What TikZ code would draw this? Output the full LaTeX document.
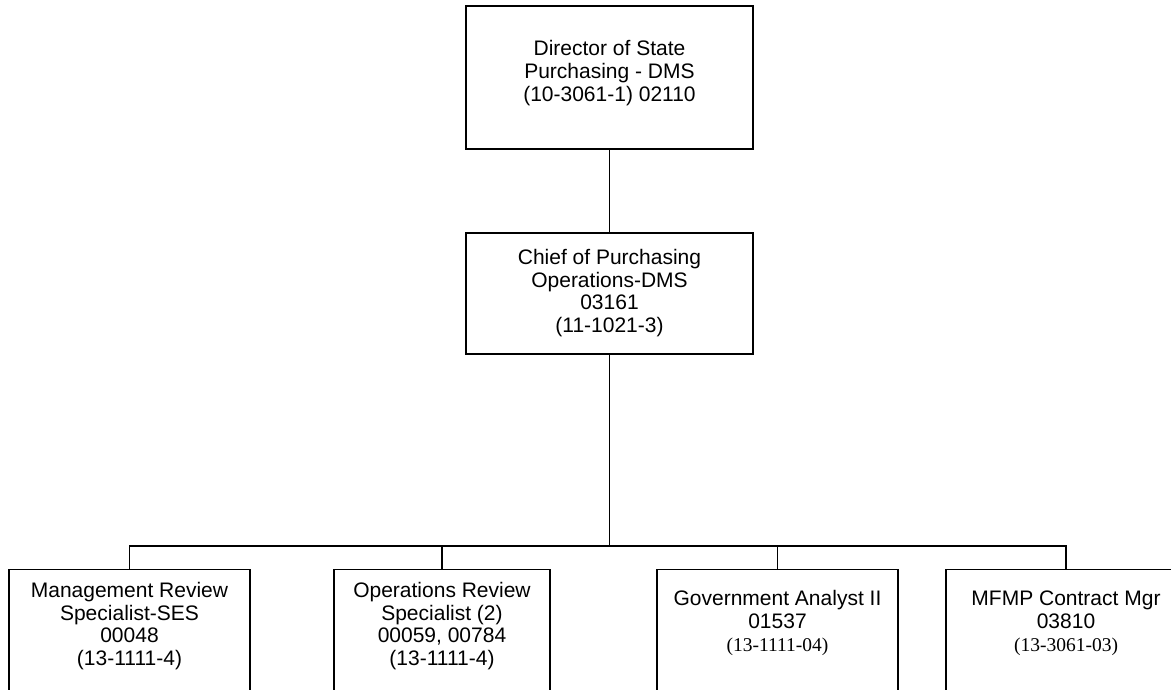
\documentclass[tikz,border=0pt]{standalone}
\usepackage{fontspec}
\setmainfont{Liberation Sans}
\newfontfamily\codeface{Liberation Serif}
\newcommand{\code}[1]{{\codeface\fontsize{19.5}{23}\selectfont #1}}
\begin{document}
\begin{tikzpicture}[x=1pt,y=-1pt,
  line width=1.7pt,
  posbox/.style={draw=black,line width=1.7pt,inner sep=0pt,fill=none},
  postext/.style={align=center,inner sep=0pt,font=\fontsize{21}{22.8}\selectfont}]
  \useasboundingbox (0,0) rectangle (1171,689);
  \clip (0,0) rectangle (1171,689);

  % position boxes
  \node[posbox,minimum width=287pt,minimum height=143pt] (dir)  at (609.5,77.5) {};
  \node[posbox,minimum width=287pt,minimum height=121pt] (chief) at (609.5,293.5) {};
  \node[posbox,minimum width=241pt,minimum height=160pt] (mrs) at (129.5,649.5) {};
  \node[posbox,minimum width=216pt,minimum height=160pt] (ors) at (442,649.5) {};
  \node[posbox,minimum width=241pt,minimum height=160pt] (gov) at (777.5,649.5) {};
  \node[posbox,minimum width=240pt,minimum height=160pt] (mfmp) at (1066,649.5) {};

  % titles
  \node[postext] (dirT) at (609.5,73) {Director of State\\Purchasing - DMS\\(10-3061-1) 02110};
  \node[postext] (chiefT) at (609.5,293) {Chief of Purchasing\\Operations-DMS\\03161\\(11-1021-3)};
  \node[postext] (mrsT) at (129.5,626) {Management Review\\Specialist-SES\\00048\\(13-1111-4)};
  \node[postext] (orsT) at (442,626) {Operations Review\\Specialist (2)\\00059, 00784\\(13-1111-4)};
  \node[postext] (govT) at (777.5,623) {Government Analyst II\\01537\\\code{(13-1111-04)}};
  \node[postext] (mfmpT) at (1066,623) {MFMP Contract Mgr\\03810\\\code{(13-3061-03)}};

  % reporting lines
  \coordinate (bus) at (609.5,546);
  \draw (dir.south) -- (chief.north);
  \draw (chief.south) -- (bus);
  \draw (mrs.north) |- (bus) -| (mfmp.north);
  \draw (ors.north) -- (ors.north |- bus);
  \draw (gov.north) -- (gov.north |- bus);
\end{tikzpicture}
\end{document}
